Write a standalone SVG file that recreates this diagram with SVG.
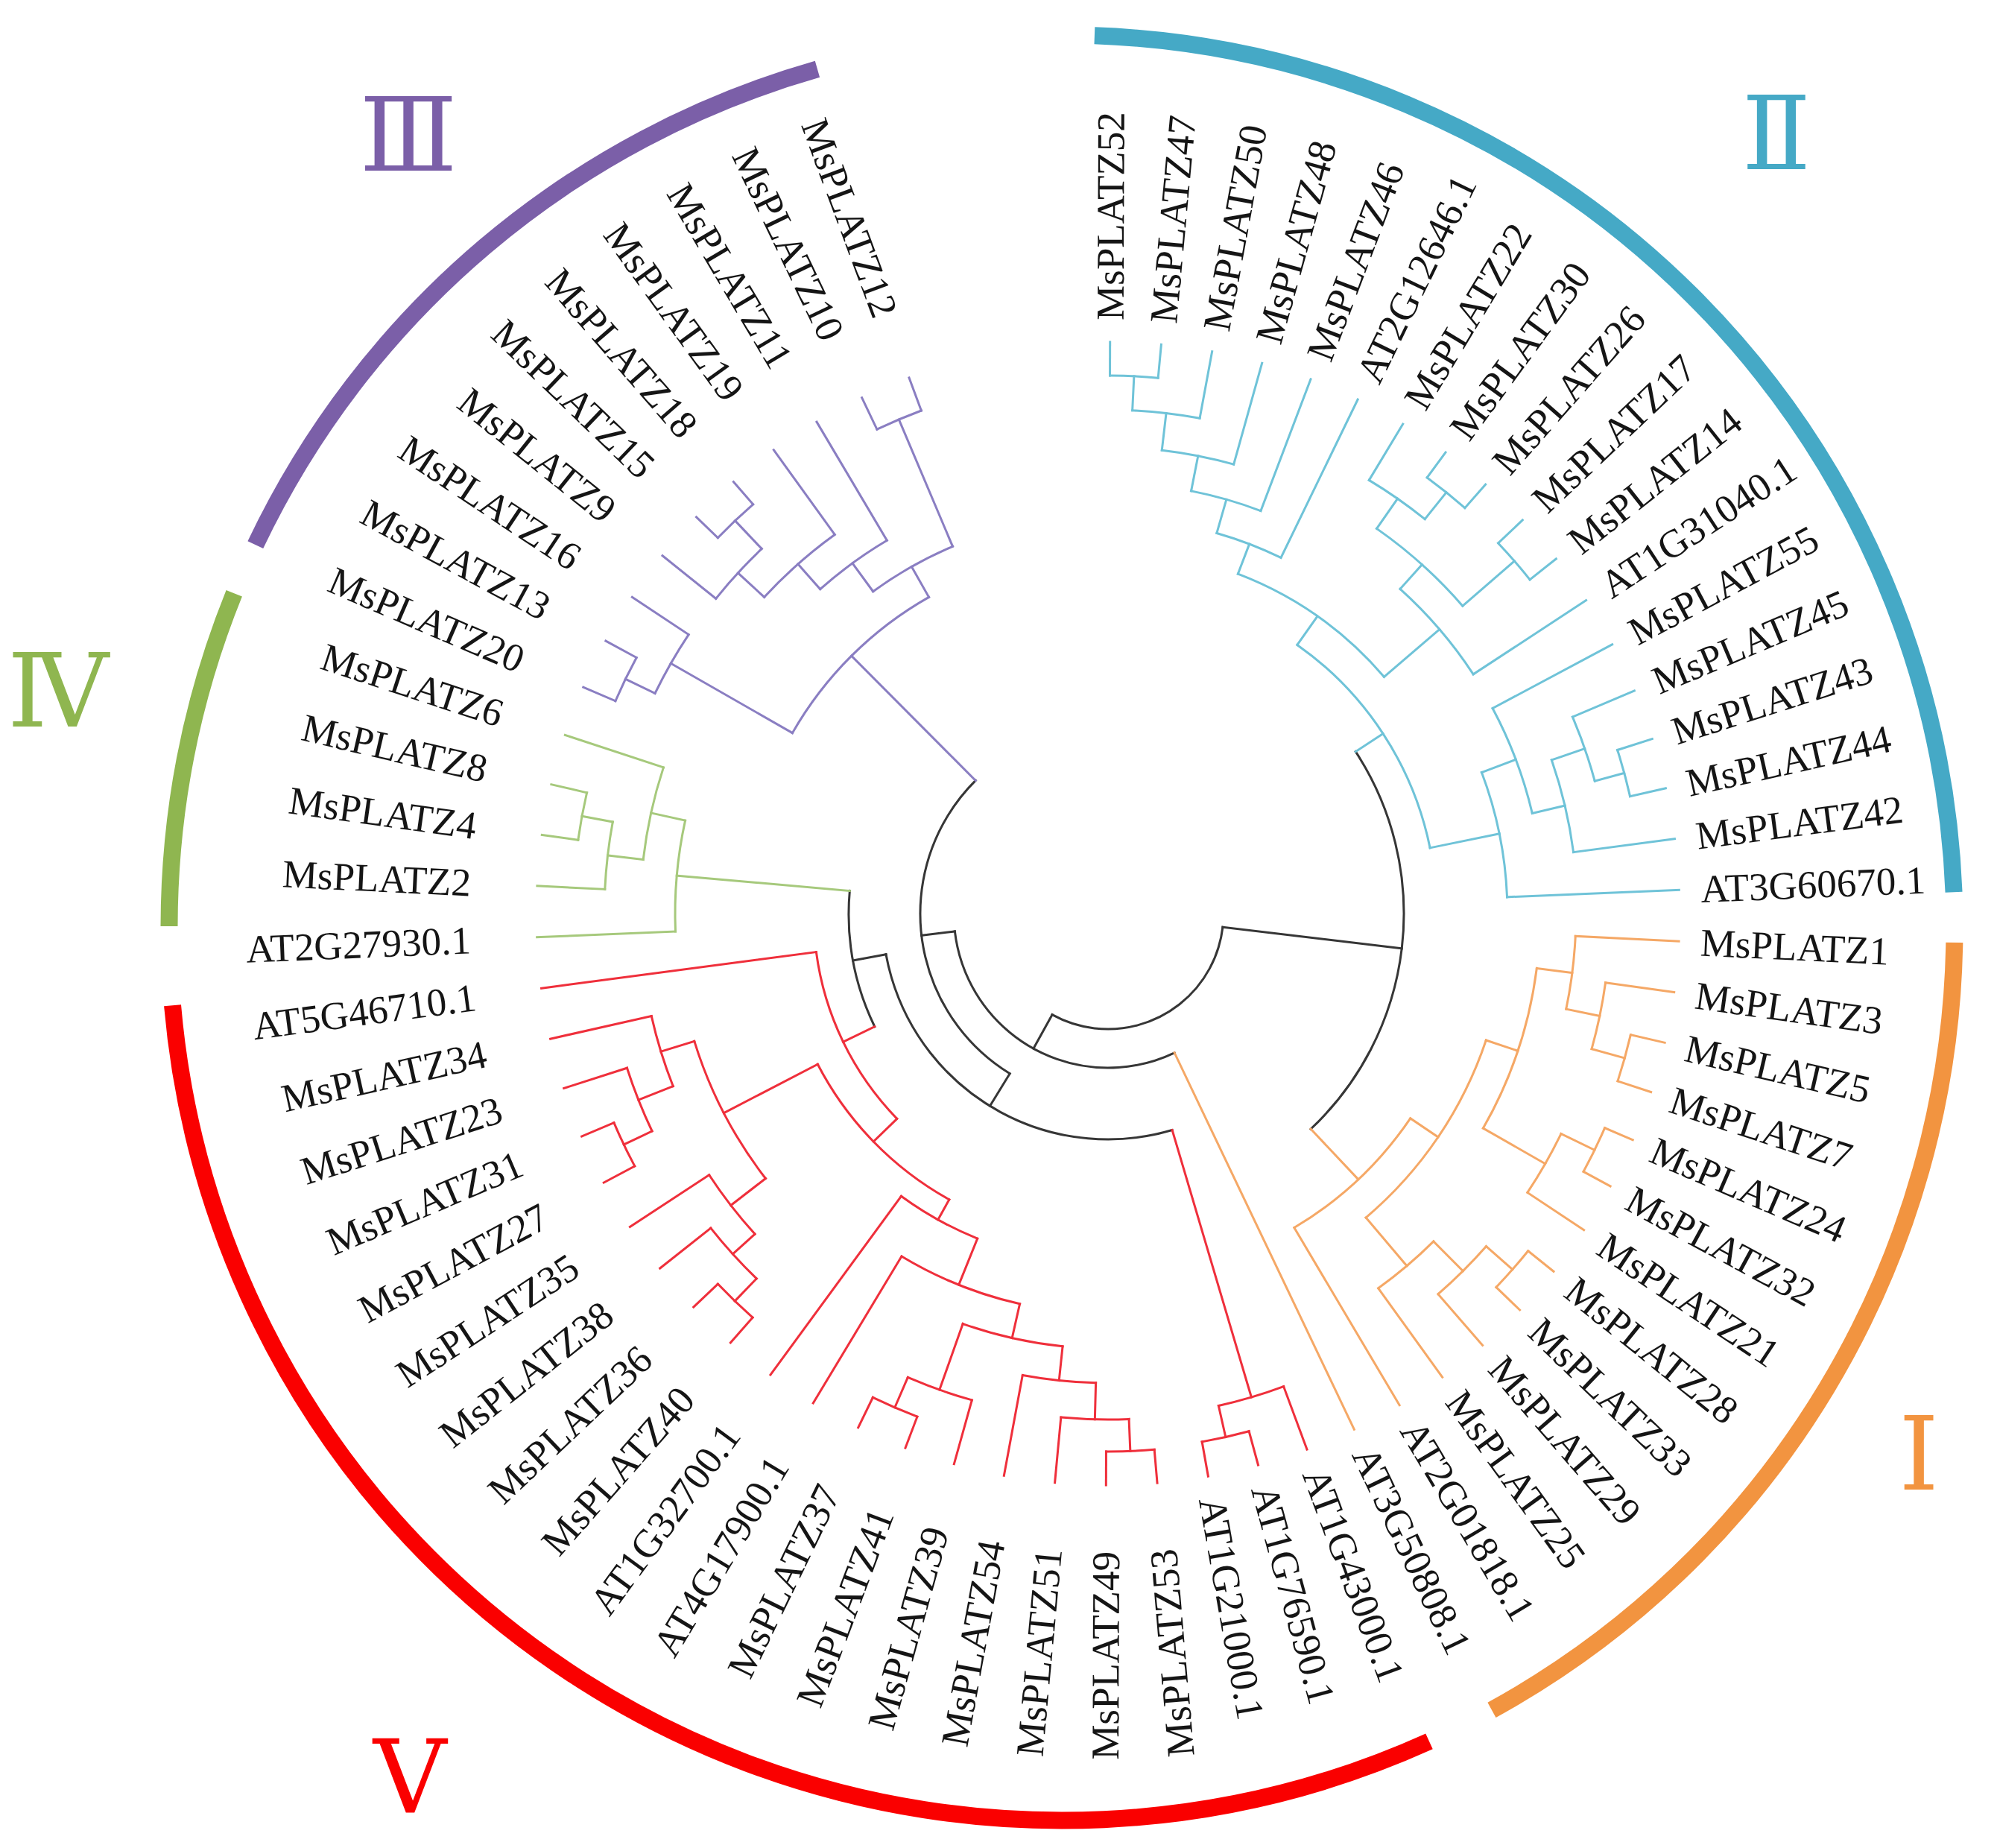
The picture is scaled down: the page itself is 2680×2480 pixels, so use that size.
<svg xmlns="http://www.w3.org/2000/svg" width="2680" height="2480" viewBox="0 0 2680 2480">
<style>
.lab{font-family:"Liberation Serif","Times New Roman",serif;font-size:53px;fill:#151515;dominant-baseline:central}
.e{text-anchor:end}
.br line,.br circle{fill:none;stroke-width:3;stroke-linecap:square}
.k{stroke:#363636}.c2{stroke:#6fc3d8}.c1{stroke:#f5a866}.c5{stroke:#ef2f3b}.c4{stroke:#a6c97c}.c3{stroke:#8a7ec2}
.band{fill:none;stroke-width:23}
.num{font-family:"DejaVu Serif","Liberation Serif","Noto Sans CJK SC",serif;font-size:136px;text-anchor:middle}
</style>
<rect width="2680" height="2480" fill="#ffffff"/>
<g id="connectors" class="br" transform="translate(1487,1226)">
<g class="k">
<circle r="155" transform="rotate(6.77)" stroke-dasharray="303.40 9999"/>
<circle r="207" transform="rotate(64.49)" stroke-dasharray="393.26 9999"/>
<circle r="252" transform="rotate(121.54)" stroke-dasharray="455.61 9999"/>
<circle r="303" transform="rotate(73.49)" stroke-dasharray="508.21 9999"/>
<circle r="348" transform="rotate(154.15)" stroke-dasharray="187.56 9999"/>
<circle r="397" transform="rotate(-33.19)" stroke-dasharray="553.76 9999"/>
<line x1="155" x2="397" transform="rotate(6.77)"/>
<line x1="155" x2="207" transform="rotate(118.92)"/>
<line x1="207" x2="252" transform="rotate(173.34)"/>
<line x1="252" x2="303" transform="rotate(121.54)"/>
<line x1="303" x2="348" transform="rotate(169.59)"/>
</g>
<g class="c2">
<line x1="397" x2="441" transform="rotate(-33.19)"/>
<circle r="441" transform="rotate(-54.85)" stroke-dasharray="333.43 9999"/>
<circle r="488" transform="rotate(-69.07)" stroke-dasharray="242.31 9999"/>
<circle r="531" transform="rotate(-74.05)" stroke-dasharray="92.31 9999"/>
<circle r="578" transform="rotate(-78.87)" stroke-dasharray="97.25 9999"/>
<circle r="626" transform="rotate(-83.37)" stroke-dasharray="98.33 9999"/>
<circle r="676" transform="rotate(-87.23)" stroke-dasharray="91.08 9999"/>
<circle r="722" transform="rotate(-89.80)" stroke-dasharray="64.77 9999"/>
<circle r="586" transform="rotate(-48.02)" stroke-dasharray="151.27 9999"/>
<circle r="630" transform="rotate(-55.09)" stroke-dasharray="155.59 9999"/>
<circle r="679" transform="rotate(-58.94)" stroke-dasharray="91.37 9999"/>
<circle r="725" transform="rotate(-53.80)" stroke-dasharray="65.04 9999"/>
<circle r="722" transform="rotate(-43.51)" stroke-dasharray="64.77 9999"/>
<circle r="536" transform="rotate(-20.70)" stroke-dasharray="171.48 9999"/>
<circle r="585" transform="rotate(-28.09)" stroke-dasharray="151.01 9999"/>
<circle r="630" transform="rotate(-19.09)" stroke-dasharray="127.33 9999"/>
<circle r="677" transform="rotate(-22.94)" stroke-dasharray="91.10 9999"/>
<circle r="718" transform="rotate(-17.80)" stroke-dasharray="64.41 9999"/>
<line x1="441" x2="488" transform="rotate(-54.85)"/>
<line x1="441" x2="536" transform="rotate(-11.53)"/>
<line x1="488" x2="531" transform="rotate(-69.07)"/>
<line x1="488" x2="586" transform="rotate(-40.62)"/>
<line x1="531" x2="578" transform="rotate(-74.05)"/>
<line x1="531" x2="767" transform="rotate(-64.09)"/>
<line x1="578" x2="626" transform="rotate(-78.87)"/>
<line x1="578" x2="767" transform="rotate(-69.23)"/>
<line x1="626" x2="676" transform="rotate(-83.37)"/>
<line x1="626" x2="767" transform="rotate(-74.37)"/>
<line x1="676" x2="722" transform="rotate(-87.23)"/>
<line x1="676" x2="767" transform="rotate(-79.51)"/>
<line x1="722" x2="767" transform="rotate(-89.80)"/>
<line x1="722" x2="767" transform="rotate(-84.66)"/>
<line x1="586" x2="630" transform="rotate(-48.02)"/>
<line x1="586" x2="767" transform="rotate(-33.23)"/>
<line x1="630" x2="679" transform="rotate(-55.09)"/>
<line x1="630" x2="722" transform="rotate(-40.94)"/>
<line x1="679" x2="767" transform="rotate(-58.94)"/>
<line x1="679" x2="725" transform="rotate(-51.23)"/>
<line x1="725" x2="767" transform="rotate(-53.80)"/>
<line x1="725" x2="767" transform="rotate(-48.66)"/>
<line x1="722" x2="767" transform="rotate(-43.51)"/>
<line x1="722" x2="767" transform="rotate(-38.37)"/>
<line x1="536" x2="585" transform="rotate(-20.70)"/>
<line x1="536" x2="767" transform="rotate(-2.37)"/>
<line x1="585" x2="767" transform="rotate(-28.09)"/>
<line x1="585" x2="630" transform="rotate(-13.30)"/>
<line x1="630" x2="677" transform="rotate(-19.09)"/>
<line x1="630" x2="767" transform="rotate(-7.51)"/>
<line x1="677" x2="767" transform="rotate(-22.94)"/>
<line x1="677" x2="718" transform="rotate(-15.23)"/>
<line x1="718" x2="767" transform="rotate(-17.80)"/>
<line x1="718" x2="767" transform="rotate(-12.66)"/>
</g>
<g class="c1">
<line x1="397" x2="490" transform="rotate(46.73)"/>
<line x1="207" x2="767" transform="rotate(64.49)"/>
<circle r="490" transform="rotate(34.11)" stroke-dasharray="215.77 9999"/>
<circle r="535" transform="rotate(18.52)" stroke-dasharray="291.14 9999"/>
<circle r="580" transform="rotate(7.27)" stroke-dasharray="227.87 9999"/>
<circle r="628" transform="rotate(2.77)" stroke-dasharray="98.65 9999"/>
<circle r="674" transform="rotate(7.91)" stroke-dasharray="90.81 9999"/>
<circle r="720" transform="rotate(13.06)" stroke-dasharray="64.59 9999"/>
<circle r="676" transform="rotate(25.92)" stroke-dasharray="90.97 9999"/>
<circle r="726" transform="rotate(23.34)" stroke-dasharray="65.26 9999"/>
<circle r="620" transform="rotate(45.20)" stroke-dasharray="97.39 9999"/>
<circle r="676" transform="rotate(41.34)" stroke-dasharray="91.08 9999"/>
<circle r="723" transform="rotate(38.77)" stroke-dasharray="64.86 9999"/>
<line x1="490" x2="535" transform="rotate(34.11)"/>
<line x1="490" x2="767" transform="rotate(59.34)"/>
<line x1="535" x2="580" transform="rotate(18.52)"/>
<line x1="535" x2="620" transform="rotate(49.70)"/>
<line x1="580" x2="628" transform="rotate(7.27)"/>
<line x1="580" x2="676" transform="rotate(29.78)"/>
<line x1="628" x2="767" transform="rotate(2.77)"/>
<line x1="628" x2="674" transform="rotate(11.77)"/>
<line x1="674" x2="767" transform="rotate(7.91)"/>
<line x1="674" x2="720" transform="rotate(15.63)"/>
<line x1="720" x2="767" transform="rotate(13.06)"/>
<line x1="720" x2="767" transform="rotate(18.20)"/>
<line x1="676" x2="726" transform="rotate(25.92)"/>
<line x1="676" x2="767" transform="rotate(33.63)"/>
<line x1="726" x2="767" transform="rotate(23.34)"/>
<line x1="726" x2="767" transform="rotate(28.49)"/>
<line x1="620" x2="676" transform="rotate(45.20)"/>
<line x1="620" x2="767" transform="rotate(54.20)"/>
<line x1="676" x2="723" transform="rotate(41.34)"/>
<line x1="676" x2="767" transform="rotate(49.06)"/>
<line x1="723" x2="767" transform="rotate(38.77)"/>
<line x1="723" x2="767" transform="rotate(43.91)"/>
</g>
<g class="c5">
<line x1="303" x2="677" transform="rotate(73.49)"/>
<line x1="348" x2="395" transform="rotate(154.15)"/>
<circle r="677" transform="rotate(69.63)" stroke-dasharray="91.10 9999"/>
<circle r="720" transform="rotate(74.77)" stroke-dasharray="64.59 9999"/>
<circle r="395" transform="rotate(135.81)" stroke-dasharray="252.87 9999"/>
<circle r="439" transform="rotate(119.05)" stroke-dasharray="256.83 9999"/>
<circle r="470" transform="rotate(111.90)" stroke-dasharray="117.30 9999"/>
<circle r="537" transform="rotate(102.74)" stroke-dasharray="171.70 9999"/>
<circle r="584" transform="rotate(95.99)" stroke-dasharray="137.60 9999"/>
<circle r="630" transform="rotate(91.49)" stroke-dasharray="98.96 9999"/>
<circle r="679" transform="rotate(87.63)" stroke-dasharray="91.37 9999"/>
<circle r="722" transform="rotate(85.06)" stroke-dasharray="64.77 9999"/>
<circle r="678" transform="rotate(105.63)" stroke-dasharray="91.35 9999"/>
<circle r="722" transform="rotate(110.77)" stroke-dasharray="64.90 9999"/>
<circle r="581" transform="rotate(142.28)" stroke-dasharray="208.59 9999"/>
<circle r="640" transform="rotate(137.78)" stroke-dasharray="100.42 9999"/>
<circle r="680" transform="rotate(133.92)" stroke-dasharray="91.50 9999"/>
<circle r="722" transform="rotate(131.34)" stroke-dasharray="64.90 9999"/>
<circle r="628" transform="rotate(158.35)" stroke-dasharray="98.54 9999"/>
<circle r="678" transform="rotate(154.49)" stroke-dasharray="91.24 9999"/>
<circle r="720" transform="rotate(151.92)" stroke-dasharray="64.59 9999"/>
<line x1="677" x2="767" transform="rotate(69.63)"/>
<line x1="677" x2="720" transform="rotate(77.34)"/>
<line x1="720" x2="767" transform="rotate(74.77)"/>
<line x1="720" x2="767" transform="rotate(79.91)"/>
<line x1="395" x2="439" transform="rotate(135.81)"/>
<line x1="395" x2="767" transform="rotate(172.49)"/>
<line x1="439" x2="470" transform="rotate(119.05)"/>
<line x1="439" x2="581" transform="rotate(152.57)"/>
<line x1="470" x2="537" transform="rotate(111.90)"/>
<line x1="470" x2="767" transform="rotate(126.20)"/>
<line x1="537" x2="584" transform="rotate(102.74)"/>
<line x1="537" x2="767" transform="rotate(121.06)"/>
<line x1="584" x2="630" transform="rotate(95.99)"/>
<line x1="584" x2="678" transform="rotate(109.49)"/>
<line x1="630" x2="679" transform="rotate(91.49)"/>
<line x1="630" x2="767" transform="rotate(100.49)"/>
<line x1="679" x2="722" transform="rotate(87.63)"/>
<line x1="679" x2="767" transform="rotate(95.34)"/>
<line x1="722" x2="767" transform="rotate(85.06)"/>
<line x1="722" x2="767" transform="rotate(90.20)"/>
<line x1="678" x2="767" transform="rotate(105.63)"/>
<line x1="678" x2="722" transform="rotate(113.35)"/>
<line x1="722" x2="767" transform="rotate(110.77)"/>
<line x1="722" x2="767" transform="rotate(115.92)"/>
<line x1="581" x2="640" transform="rotate(142.28)"/>
<line x1="581" x2="628" transform="rotate(162.85)"/>
<line x1="640" x2="680" transform="rotate(137.78)"/>
<line x1="640" x2="767" transform="rotate(146.77)"/>
<line x1="680" x2="722" transform="rotate(133.92)"/>
<line x1="680" x2="767" transform="rotate(141.63)"/>
<line x1="722" x2="767" transform="rotate(131.34)"/>
<line x1="722" x2="767" transform="rotate(136.49)"/>
<line x1="628" x2="678" transform="rotate(158.35)"/>
<line x1="628" x2="767" transform="rotate(167.34)"/>
<line x1="678" x2="720" transform="rotate(154.49)"/>
<line x1="678" x2="767" transform="rotate(162.20)"/>
<line x1="720" x2="767" transform="rotate(151.92)"/>
<line x1="720" x2="767" transform="rotate(157.06)"/>
</g>
<g class="c4">
<line x1="348" x2="581" transform="rotate(185.03)"/>
<circle r="581" transform="rotate(177.63)" stroke-dasharray="149.98 9999"/>
<circle r="628" transform="rotate(186.63)" stroke-dasharray="126.82 9999"/>
<circle r="676" transform="rotate(182.77)" stroke-dasharray="91.08 9999"/>
<circle r="718" transform="rotate(187.91)" stroke-dasharray="64.54 9999"/>
<line x1="581" x2="767" transform="rotate(177.63)"/>
<line x1="581" x2="628" transform="rotate(192.42)"/>
<line x1="628" x2="676" transform="rotate(186.63)"/>
<line x1="628" x2="767" transform="rotate(198.20)"/>
<line x1="676" x2="767" transform="rotate(182.77)"/>
<line x1="676" x2="718" transform="rotate(190.49)"/>
<line x1="718" x2="767" transform="rotate(187.91)"/>
<line x1="718" x2="767" transform="rotate(193.06)"/>
</g>
<g class="c3">
<line x1="252" x2="488" transform="rotate(225.13)"/>
<circle r="488" transform="rotate(209.78)" stroke-dasharray="261.48 9999"/>
<circle r="676" transform="rotate(205.92)" stroke-dasharray="90.97 9999"/>
<circle r="720" transform="rotate(203.34)" stroke-dasharray="64.72 9999"/>
<circle r="535" transform="rotate(233.89)" stroke-dasharray="122.98 9999"/>
<circle r="582" transform="rotate(228.42)" stroke-dasharray="111.03 9999"/>
<circle r="627" transform="rotate(222.63)" stroke-dasharray="126.61 9999"/>
<circle r="675" transform="rotate(218.77)" stroke-dasharray="90.95 9999"/>
<circle r="727" transform="rotate(223.92)" stroke-dasharray="65.22 9999"/>
<circle r="720" transform="rotate(244.49)" stroke-dasharray="64.59 9999"/>
<line x1="488" x2="676" transform="rotate(209.78)"/>
<line x1="488" x2="535" transform="rotate(240.48)"/>
<line x1="676" x2="720" transform="rotate(205.92)"/>
<line x1="676" x2="767" transform="rotate(213.63)"/>
<line x1="720" x2="767" transform="rotate(203.34)"/>
<line x1="720" x2="767" transform="rotate(208.49)"/>
<line x1="535" x2="582" transform="rotate(233.89)"/>
<line x1="535" x2="720" transform="rotate(247.06)"/>
<line x1="582" x2="627" transform="rotate(228.42)"/>
<line x1="582" x2="767" transform="rotate(239.35)"/>
<line x1="627" x2="675" transform="rotate(222.63)"/>
<line x1="627" x2="767" transform="rotate(234.20)"/>
<line x1="675" x2="767" transform="rotate(218.77)"/>
<line x1="675" x2="727" transform="rotate(226.49)"/>
<line x1="727" x2="767" transform="rotate(223.92)"/>
<line x1="727" x2="767" transform="rotate(229.06)"/>
<line x1="720" x2="767" transform="rotate(244.49)"/>
<line x1="720" x2="767" transform="rotate(249.63)"/>
</g>
</g>
<g id="leaves" class="lab" transform="translate(1487,1226)">
<g id="leaf-MsPLATZ52"><text transform="rotate(-89.80) translate(796 0)">MsPLATZ52</text></g>
<g id="leaf-MsPLATZ47"><text transform="rotate(-84.66) translate(796 0)">MsPLATZ47</text></g>
<g id="leaf-MsPLATZ50"><text transform="rotate(-79.51) translate(796 0)">MsPLATZ50</text></g>
<g id="leaf-MsPLATZ48"><text transform="rotate(-74.37) translate(796 0)">MsPLATZ48</text></g>
<g id="leaf-MsPLATZ46"><text transform="rotate(-69.23) translate(796 0)">MsPLATZ46</text></g>
<g id="leaf-AT2G12646.1"><text transform="rotate(-64.09) translate(796 0)">AT2G12646.1</text></g>
<g id="leaf-MsPLATZ22"><text transform="rotate(-58.94) translate(796 0)">MsPLATZ22</text></g>
<g id="leaf-MsPLATZ30"><text transform="rotate(-53.80) translate(796 0)">MsPLATZ30</text></g>
<g id="leaf-MsPLATZ26"><text transform="rotate(-48.66) translate(796 0)">MsPLATZ26</text></g>
<g id="leaf-MsPLATZ17"><text transform="rotate(-43.51) translate(796 0)">MsPLATZ17</text></g>
<g id="leaf-MsPLATZ14"><text transform="rotate(-38.37) translate(796 0)">MsPLATZ14</text></g>
<g id="leaf-AT1G31040.1"><text transform="rotate(-33.23) translate(796 0)">AT1G31040.1</text></g>
<g id="leaf-MsPLATZ55"><text transform="rotate(-28.09) translate(796 0)">MsPLATZ55</text></g>
<g id="leaf-MsPLATZ45"><text transform="rotate(-22.94) translate(796 0)">MsPLATZ45</text></g>
<g id="leaf-MsPLATZ43"><text transform="rotate(-17.80) translate(796 0)">MsPLATZ43</text></g>
<g id="leaf-MsPLATZ44"><text transform="rotate(-12.66) translate(796 0)">MsPLATZ44</text></g>
<g id="leaf-MsPLATZ42"><text transform="rotate(-7.51) translate(796 0)">MsPLATZ42</text></g>
<g id="leaf-AT3G60670.1"><text transform="rotate(-2.37) translate(796 0)">AT3G60670.1</text></g>
<g id="leaf-MsPLATZ1"><text transform="rotate(2.77) translate(796 0)">MsPLATZ1</text></g>
<g id="leaf-MsPLATZ3"><text transform="rotate(7.91) translate(796 0)">MsPLATZ3</text></g>
<g id="leaf-MsPLATZ5"><text transform="rotate(13.06) translate(796 0)">MsPLATZ5</text></g>
<g id="leaf-MsPLATZ7"><text transform="rotate(18.20) translate(796 0)">MsPLATZ7</text></g>
<g id="leaf-MsPLATZ24"><text transform="rotate(23.34) translate(796 0)">MsPLATZ24</text></g>
<g id="leaf-MsPLATZ32"><text transform="rotate(28.49) translate(796 0)">MsPLATZ32</text></g>
<g id="leaf-MsPLATZ21"><text transform="rotate(33.63) translate(796 0)">MsPLATZ21</text></g>
<g id="leaf-MsPLATZ28"><text transform="rotate(38.77) translate(796 0)">MsPLATZ28</text></g>
<g id="leaf-MsPLATZ33"><text transform="rotate(43.91) translate(796 0)">MsPLATZ33</text></g>
<g id="leaf-MsPLATZ29"><text transform="rotate(49.06) translate(796 0)">MsPLATZ29</text></g>
<g id="leaf-MsPLATZ25"><text transform="rotate(54.20) translate(796 0)">MsPLATZ25</text></g>
<g id="leaf-AT2G01818.1"><text transform="rotate(59.34) translate(796 0)">AT2G01818.1</text></g>
<g id="leaf-AT3G50808.1"><text transform="rotate(64.49) translate(796 0)">AT3G50808.1</text></g>
<g id="leaf-AT1G43000.1"><text transform="rotate(69.63) translate(796 0)">AT1G43000.1</text></g>
<g id="leaf-AT1G76590.1"><text transform="rotate(74.77) translate(796 0)">AT1G76590.1</text></g>
<g id="leaf-AT1G21000.1"><text transform="rotate(79.91) translate(796 0)">AT1G21000.1</text></g>
<g id="leaf-MsPLATZ53"><text class="e" transform="rotate(85.06) translate(856 0) rotate(180)">MsPLATZ53</text></g>
<g id="leaf-MsPLATZ49"><text class="e" transform="rotate(90.20) translate(856 0) rotate(180)">MsPLATZ49</text></g>
<g id="leaf-MsPLATZ51"><text class="e" transform="rotate(95.34) translate(856 0) rotate(180)">MsPLATZ51</text></g>
<g id="leaf-MsPLATZ54"><text class="e" transform="rotate(100.49) translate(856 0) rotate(180)">MsPLATZ54</text></g>
<g id="leaf-MsPLATZ39"><text class="e" transform="rotate(105.63) translate(856 0) rotate(180)">MsPLATZ39</text></g>
<g id="leaf-MsPLATZ41"><text class="e" transform="rotate(110.77) translate(856 0) rotate(180)">MsPLATZ41</text></g>
<g id="leaf-MsPLATZ37"><text class="e" transform="rotate(115.92) translate(856 0) rotate(180)">MsPLATZ37</text></g>
<g id="leaf-AT4G17900.1"><text class="e" transform="rotate(121.06) translate(856 0) rotate(180)">AT4G17900.1</text></g>
<g id="leaf-AT1G32700.1"><text class="e" transform="rotate(126.20) translate(856 0) rotate(180)">AT1G32700.1</text></g>
<g id="leaf-MsPLATZ40"><text class="e" transform="rotate(131.34) translate(856 0) rotate(180)">MsPLATZ40</text></g>
<g id="leaf-MsPLATZ36"><text class="e" transform="rotate(136.49) translate(856 0) rotate(180)">MsPLATZ36</text></g>
<g id="leaf-MsPLATZ38"><text class="e" transform="rotate(141.63) translate(856 0) rotate(180)">MsPLATZ38</text></g>
<g id="leaf-MsPLATZ35"><text class="e" transform="rotate(146.77) translate(856 0) rotate(180)">MsPLATZ35</text></g>
<g id="leaf-MsPLATZ27"><text class="e" transform="rotate(151.92) translate(856 0) rotate(180)">MsPLATZ27</text></g>
<g id="leaf-MsPLATZ31"><text class="e" transform="rotate(157.06) translate(856 0) rotate(180)">MsPLATZ31</text></g>
<g id="leaf-MsPLATZ23"><text class="e" transform="rotate(162.20) translate(856 0) rotate(180)">MsPLATZ23</text></g>
<g id="leaf-MsPLATZ34"><text class="e" transform="rotate(167.34) translate(856 0) rotate(180)">MsPLATZ34</text></g>
<g id="leaf-AT5G46710.1"><text class="e" transform="rotate(172.49) translate(856 0) rotate(180)">AT5G46710.1</text></g>
<g id="leaf-AT2G27930.1"><text class="e" transform="rotate(177.63) translate(856 0) rotate(180)">AT2G27930.1</text></g>
<g id="leaf-MsPLATZ2"><text class="e" transform="rotate(182.77) translate(856 0) rotate(180)">MsPLATZ2</text></g>
<g id="leaf-MsPLATZ4"><text class="e" transform="rotate(187.91) translate(856 0) rotate(180)">MsPLATZ4</text></g>
<g id="leaf-MsPLATZ8"><text class="e" transform="rotate(193.06) translate(856 0) rotate(180)">MsPLATZ8</text></g>
<g id="leaf-MsPLATZ6"><text class="e" transform="rotate(198.20) translate(856 0) rotate(180)">MsPLATZ6</text></g>
<g id="leaf-MsPLATZ20"><text class="e" transform="rotate(203.34) translate(856 0) rotate(180)">MsPLATZ20</text></g>
<g id="leaf-MsPLATZ13"><text class="e" transform="rotate(208.49) translate(856 0) rotate(180)">MsPLATZ13</text></g>
<g id="leaf-MsPLATZ16"><text class="e" transform="rotate(213.63) translate(856 0) rotate(180)">MsPLATZ16</text></g>
<g id="leaf-MsPLATZ9"><text class="e" transform="rotate(218.77) translate(856 0) rotate(180)">MsPLATZ9</text></g>
<g id="leaf-MsPLATZ15"><text class="e" transform="rotate(223.92) translate(856 0) rotate(180)">MsPLATZ15</text></g>
<g id="leaf-MsPLATZ18"><text class="e" transform="rotate(229.06) translate(856 0) rotate(180)">MsPLATZ18</text></g>
<g id="leaf-MsPLATZ19"><text class="e" transform="rotate(234.20) translate(856 0) rotate(180)">MsPLATZ19</text></g>
<g id="leaf-MsPLATZ11"><text class="e" transform="rotate(239.35) translate(856 0) rotate(180)">MsPLATZ11</text></g>
<g id="leaf-MsPLATZ10"><text class="e" transform="rotate(244.49) translate(856 0) rotate(180)">MsPLATZ10</text></g>
<g id="leaf-MsPLATZ12"><text class="e" transform="rotate(249.63) translate(856 0) rotate(180)">MsPLATZ12</text></g>
</g>
<g id="clade-bands" transform="translate(1425,1245)">
<circle id="band-II" class="band" r="1198" stroke="#45a9c6" transform="rotate(-87.9)" stroke-dasharray="1789.8 9999"/>
<circle id="band-I" class="band" r="1198" stroke="#f29440" transform="rotate(0.95)" stroke-dasharray="1259.8 9999"/>
<circle id="band-V" class="band" r="1198" stroke="#fa0000" transform="rotate(65.7)" stroke-dasharray="2285.4 9999"/>
<circle id="band-IV" class="band" r="1198" stroke="#8fb650" transform="rotate(180.1)" stroke-dasharray="457.9 9999"/>
<circle id="band-III" class="band" r="1198" stroke="#7b5fa8" transform="rotate(205.4)" stroke-dasharray="1018.3 9999"/>
</g>
<g id="clade-labels" class="num">
<g id="clade-III"><text x="548" y="229" fill="#7b5fa8">Ⅲ</text></g>
<g id="clade-II"><text x="2384" y="227" fill="#45a9c6">Ⅱ</text></g>
<g id="clade-IV"><text x="78" y="975" fill="#8fb650">Ⅳ</text></g>
<g id="clade-V"><text x="550" y="2433" fill="#fa0000">Ⅴ</text></g>
<g id="clade-I"><text x="2575" y="1999" fill="#f29440">Ⅰ</text></g>
</g>
</svg>
